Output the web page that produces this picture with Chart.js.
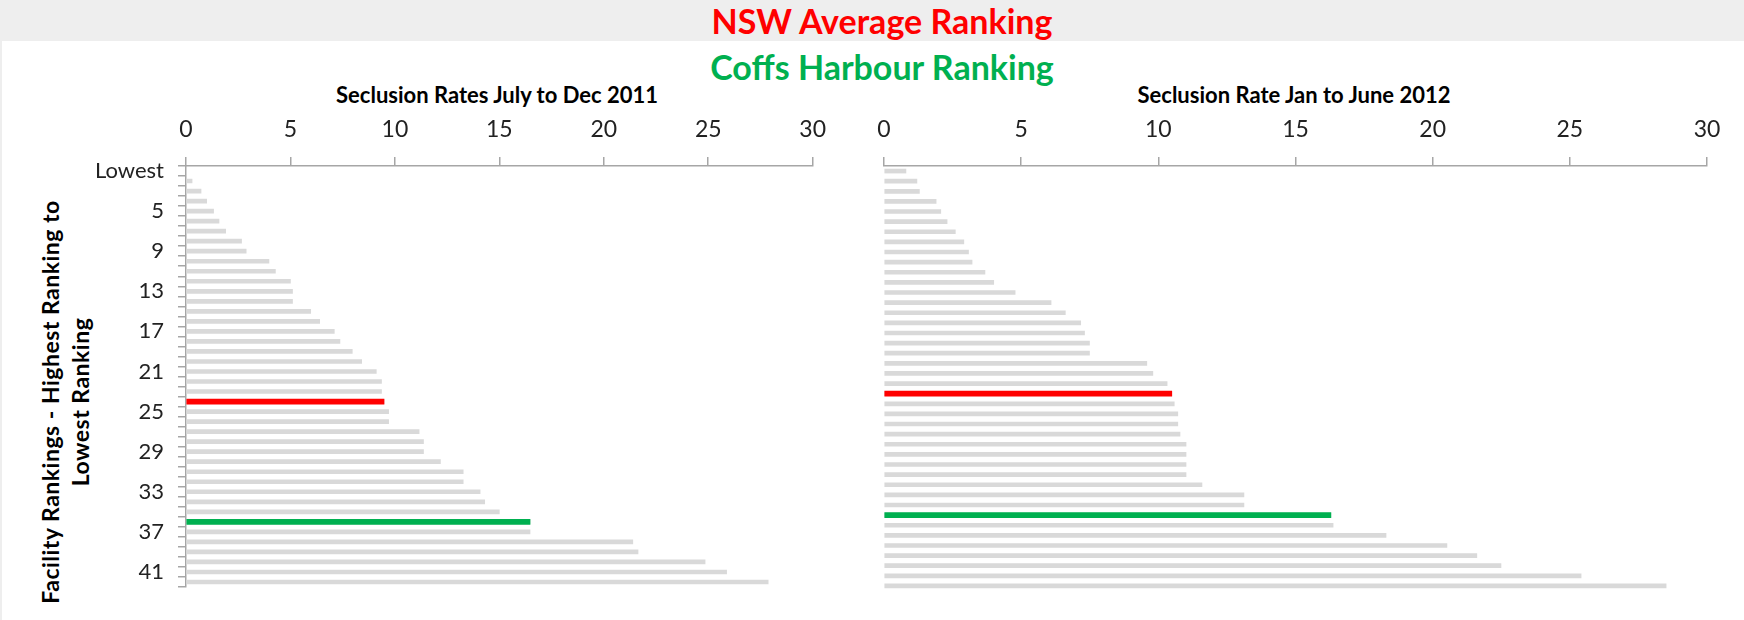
<!DOCTYPE html>
<html>
<head>
<meta charset="utf-8">
<script src="https://cdn.jsdelivr.net/npm/chart.js@4.4.0/dist/chart.umd.min.js"></script>
<style>
body { margin: 0; width: 1744px; height: 620px; position: relative; overflow: hidden; background: #fff; font-family: Lato, sans-serif; }
#banner { position: absolute; left: 0; top: 0; width: 1744px; height: 41px; background: #eeeeee; }
#edge { position: absolute; left: 0; top: 41px; width: 2px; height: 579px; background: #eeeeee; }
.t { position: absolute; white-space: nowrap; font-weight: bold; transform: translate(-50%, -50%); }
#ytitle { position: absolute; left: 65px; top: 402px; white-space: nowrap; font-weight: bold; font-size: 23px; line-height: 30px;
          letter-spacing: 0.5px; text-align: center; color: #000; transform: translate(-50%, -50%) rotate(-90deg); }
canvas { position: absolute; top: 0; }
</style>
</head>
<body>
<div id="banner"></div>
<div id="edge"></div>
<div class="t" style="left:882px;top:20px;font-size:34px;color:#ff0000">NSW Average Ranking</div>
<div class="t" style="left:882px;top:66px;font-size:34px;color:#00b050">Coffs Harbour Ranking</div>
<div class="t" style="left:497px;top:94px;font-size:22px;color:#000">Seclusion Rates July to Dec 2011</div>
<div class="t" style="left:1294px;top:94px;font-size:22px;color:#000">Seclusion Rate Jan to June 2012</div>
<div id="ytitle">Facility Rankings - Highest Ranking to<br>Lowest Ranking</div>
<canvas id="left" width="840" height="620" style="left:0"></canvas>
<canvas id="right" width="884" height="620" style="left:860px"></canvas>
<script>
// facility rankings, top of the chart = lowest
var rankLabels = ['Lowest', '2', '3', '4', '5', '6', '7', '8', '9', '10',
  '11', '12', '13', '14', '15', '16', '17', '18', '19', '20',
  '21', '22', '23', '24', '25', '26', '27', '28', '29', '30',
  '31', '32', '33', '34', '35', '36', '37', '38', '39', '40',
  '41', '42'];

// seclusion rates July to Dec 2011
var rates2011 = [0, 0.29, 0.72, 0.99, 1.32, 1.58, 1.90, 2.66, 2.88, 3.97,
  4.28, 5.00, 5.10, 5.10, 5.97, 6.40, 7.10, 7.37, 7.96, 8.41,
  9.11, 9.36, 9.36, 9.48, 9.70, 9.70, 11.16, 11.37, 11.37, 12.18,
  13.27, 13.27, 14.08, 14.30, 15.00, 16.47, 16.47, 21.39, 21.64, 24.85,
  25.88, 27.87];

// seclusion rates Jan to June 2012
var rates2012 = [0.80, 1.20, 1.29, 1.90, 2.07, 2.30, 2.60, 2.91, 3.08, 3.21,
  3.68, 4.00, 4.78, 6.09, 6.61, 7.17, 7.31, 7.49, 7.49, 9.58,
  9.80, 10.32, 10.49, 10.58, 10.71, 10.71, 10.79, 11.01, 11.01, 11.01,
  11.01, 11.59, 13.12, 13.12, 16.29, 16.37, 18.30, 20.52, 21.61, 22.49,
  25.41, 28.51];

// rank (1 based) of the highlighted bars
var nswRank2011 = 24, coffsRank2011 = 36;
var nswRank2012 = 23, coffsRank2012 = 35;

var axisGrey = '#a6a6a6';

function drawPanel(id, values, nswRank, coffsRank, showY, pad) {
  var hiData = values.map(function (v, i) {
    return (i == nswRank - 1 || i == coffsRank - 1) ? v : null;
  });
  var hiColors = values.map(function (v, i) {
    return i == nswRank - 1 ? '#ff0000' : '#00b050';
  });

  return new Chart(document.getElementById(id), {
    type: 'bar',
    data: {
      labels: rankLabels,
      datasets: [{
        label: 'highlight',
        data: hiData,
        backgroundColor: hiColors,
        barThickness: 5,
        grouped: false
      }, {
        label: 'facilities',
        data: values,
        backgroundColor: '#d9d9d9',
        barThickness: 4,
        grouped: false
      }]
    },
    options: {
      indexAxis: 'y',
      responsive: false,
      animation: false,
      layout: { padding: pad },
      plugins: { legend: { display: false }, tooltip: { enabled: false } },
      scales: {
        x: {
          type: 'linear',
          position: 'top',
          min: 0,
          max: 30,
          ticks: { stepSize: 5, color: '#222', padding: 14, font: { family: 'Lato', size: 23 } },
          grid: { drawOnChartArea: false, tickLength: 9, color: axisGrey, lineWidth: 1.5 },
          border: { color: axisGrey, width: 1.5 },
          afterFit: function (s) { s.height = 166; }
        },
        y: {
          type: 'category',
          display: showY,
          grid: { offset: true, drawOnChartArea: false, tickLength: 8, color: axisGrey, lineWidth: 1.5 },
          border: { color: axisGrey, width: 1.5 },
          ticks: {
            autoSkip: false,
            padding: 14,
            color: '#222',
            font: { family: 'Lato', size: 22 },
            callback: function (val, index) {
              return index % 4 == 0 ? this.getLabelForValue(val) : '';
            }
          },
          afterFit: function (s) { s.width = showY ? 186 : 0; }
        }
      }
    }
  });
}

drawPanel('left', rates2011, nswRank2011, coffsRank2011, true, { left: 0, right: 27, top: 0, bottom: 33 });
drawPanel('right', rates2012, nswRank2012, coffsRank2012, false, { left: 24, right: 37, top: 0, bottom: 29 });
</script>
</body>
</html>
